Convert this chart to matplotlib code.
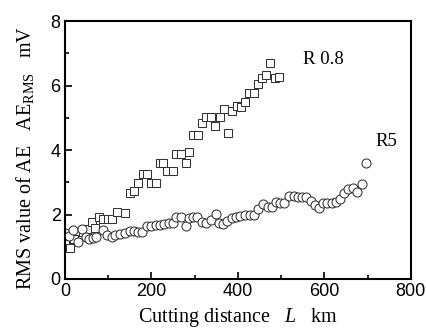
import numpy as np
import matplotlib
matplotlib.use("Agg")
import matplotlib.pyplot as plt
from matplotlib.ticker import MultipleLocator

# R 0.8 (squares)
dist_r08 = [0, 11, 22, 41, 51, 62, 69, 78, 88, 99, 110, 120, 138, 150, 159, 168,
            180, 189, 200, 210, 219, 228, 237, 249, 258, 269, 279, 288, 297, 307,
            318, 327, 339, 348, 359, 369, 378, 387, 399, 408, 417, 426, 438, 447,
            456, 465, 475, 486, 495]
rms_r08 = [1.1, 0.97, 1.25, 1.47, 1.54, 1.77, 1.57, 1.91, 1.86, 1.86, 1.87, 2.09, 2.05,
           2.66, 2.72, 2.98, 3.27, 3.26, 2.99, 2.98, 3.61, 3.61, 3.36, 3.35, 3.88,
           3.89, 3.61, 3.94, 4.47, 4.47, 4.84, 5.02, 5.02, 4.74, 5.02, 5.27, 4.53,
           5.21, 5.36, 5.33, 5.49, 5.77, 5.77, 6.05, 6.23, 6.33, 6.7, 6.23, 6.26]

# R5 (circles)
dist_r5 = [0, 10, 19, 30, 39, 48, 56, 65, 73, 88, 97, 108, 117, 127, 138, 150, 159,
           168, 179, 189, 200, 210, 219, 230, 240, 249, 258, 269, 279, 288, 297,
           306, 318, 327, 339, 350, 357, 366, 376, 387, 396, 406, 417, 429, 438,
           447, 459, 470, 479, 488, 498, 507, 519, 530, 539, 548, 558, 569, 578,
           588, 597, 606, 617, 627, 636, 645, 654, 666, 675, 687, 696]
rms_r5 = [1.43, 1.33, 1.52, 1.15, 1.55, 1.3, 1.24, 1.27, 1.3, 1.52, 1.36, 1.3, 1.36,
          1.39, 1.43, 1.49, 1.49, 1.46, 1.46, 1.64, 1.64, 1.67, 1.67, 1.71, 1.73,
          1.74, 1.93, 1.92, 1.64, 1.89, 1.92, 1.92, 1.77, 1.74, 1.83, 2.02, 1.74,
          1.71, 1.8, 1.89, 1.92, 1.95, 1.98, 1.98, 1.98, 2.17, 2.33, 2.23, 2.23,
          2.39, 2.36, 2.36, 2.57, 2.57, 2.55, 2.53, 2.53, 2.42, 2.29, 2.2, 2.36,
          2.36, 2.36, 2.39, 2.48, 2.67, 2.79, 2.82, 2.7, 2.95, 3.6]

plt.rcParams['mathtext.fontset'] = 'custom'
plt.rcParams['mathtext.rm'] = 'Liberation Serif'
plt.rcParams['mathtext.it'] = 'Liberation Serif:italic'

fig = plt.figure(figsize=(4.27, 3.29), dpi=100)
ax = fig.add_axes([0.152, 0.152, 0.810, 0.784])

ax.plot(dist_r08, rms_r08, ls='none', marker='s', ms=5.2, mfc='white', mec='#333333', mew=0.75)
ax.plot(dist_r5, rms_r5, ls='none', marker='o', ms=6.5, mfc='white', mec='#333333', mew=0.75)

ax.text(551, 6.8, 'R 0.8', family='Liberation Serif', fontsize=13.5, va='center')
ax.text(719, 4.25, 'R5', family='Liberation Serif', fontsize=13.5, va='center')

ax.set_xlim(0, 800)
ax.set_ylim(0, 8)
ax.xaxis.set_major_locator(MultipleLocator(200))
ax.xaxis.set_minor_locator(MultipleLocator(100))
ax.yaxis.set_major_locator(MultipleLocator(2))
ax.yaxis.set_minor_locator(MultipleLocator(1))
ax.tick_params(which='both', direction='in', top=False, right=False, width=1.2)
ax.tick_params(which='major', length=5, labelsize=13, pad=3)
ax.tick_params(which='minor', length=3)
for lab in ax.get_xticklabels() + ax.get_yticklabels():
    lab.set_family('Liberation Sans')
for s in ax.spines.values():
    s.set_linewidth(1.5)

ax.set_xlabel(r'Cutting distance   $\it{L}$   km', family='Liberation Serif', fontsize=14.5)
ax.set_ylabel(r'RMS value of AE   AE$_{\mathrm{RMS}}$   mV', family='Liberation Serif',
              fontsize=14.5)
ax.xaxis.set_label_coords(0.5, -0.105)
ax.yaxis.set_label_coords(-0.085, 0.47)

fig.savefig('out.png', dpi=100)
